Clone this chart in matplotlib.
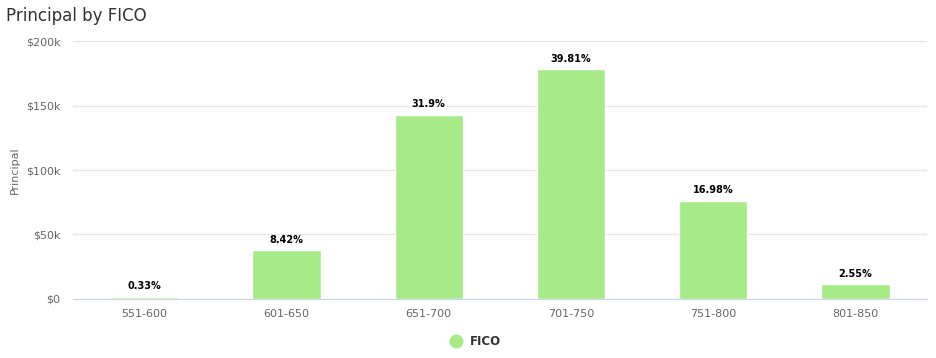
import matplotlib.pyplot as plt
from matplotlib.ticker import FuncFormatter
from matplotlib.lines import Line2D

categories = ['551-600', '601-650', '651-700', '701-750', '751-800', '801-850']
principal = [1480, 37700, 142900, 178300, 76050, 11420]
pct_labels = ['0.33%', '8.42%', '31.9%', '39.81%', '16.98%', '2.55%']

bar_color = '#a6eb88'
text_color = '#666666'

plt.rcParams['font.family'] = ['DejaVu Sans']

fig = plt.figure(figsize=(9.36, 3.58), dpi=100)
ax = fig.add_axes([0.078, 0.165, 0.912, 0.72])

x = range(len(categories))
bars = ax.bar(x, principal, width=0.48, color=bar_color, edgecolor='white', linewidth=1, zorder=3)

for rect, lab in zip(bars, pct_labels):
    ax.annotate(lab, (rect.get_x() + rect.get_width() / 2, rect.get_height()),
                xytext=(0, 4), textcoords='offset points', ha='center', va='bottom',
                fontsize=7, fontweight='bold', color='#000000')

ax.set_xlim(-0.5, len(categories) - 0.5)
ax.set_ylim(0, 200000)
ax.set_yticks([0, 50000, 100000, 150000, 200000])
ax.yaxis.set_major_formatter(FuncFormatter(lambda v, p: '$0' if v == 0 else f'${int(v / 1000)}k'))
ax.set_xticks(list(x))
ax.set_xticklabels(categories)

ax.grid(axis='y', color='#e6e6e6', linewidth=1, zorder=0)
for side in ['top', 'right', 'left']:
    ax.spines[side].set_visible(False)
ax.spines['bottom'].set_color('#ccd6eb')
ax.tick_params(axis='both', length=0, labelsize=8, labelcolor=text_color)
ax.tick_params(axis='y', pad=9)
ax.tick_params(axis='x', pad=7)

fig.text(15 / 936, 0.525, 'Principal', rotation=90, fontsize=8, color=text_color, ha='center', va='center')

fig.text(0.006, 0.955, 'Principal by FICO', fontsize=12, color='#333333', va='center', ha='left')

handle = Line2D([], [], marker='o', linestyle='none', markersize=9, color=bar_color)
leg = fig.legend([handle], ['FICO'], loc='center', bbox_to_anchor=(0.505, 0.047), frameon=False,
                 handletextpad=0.2, prop={'size': 8.5, 'weight': 'bold'})
for t in leg.get_texts():
    t.set_color('#333333')

fig.savefig('out.png', dpi=100, facecolor='white')
